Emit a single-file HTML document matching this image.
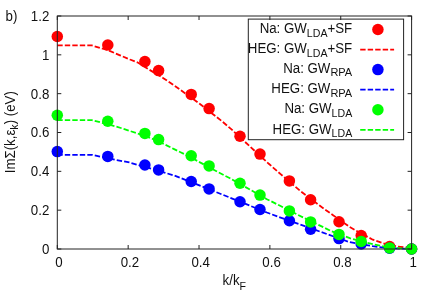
<!DOCTYPE html><html><head><meta charset="utf-8"><style>html,body{margin:0;padding:0;background:#fff}body{width:436px;height:305px;overflow:hidden;position:relative}</style></head><body><svg width="436" height="305" viewBox="0 0 436 305" style="position:absolute;left:0;top:0;will-change:transform;font-family:'Liberation Sans',sans-serif;font-size:13.3px" fill="#111">
<rect width="436" height="305" fill="#fff"/>
<text transform="translate(49.3,253.8) scale(1,1.06)" text-anchor="end">0</text>
<text transform="translate(49.3,215.0) scale(1,1.06)" text-anchor="end">0.2</text>
<text transform="translate(49.3,176.1) scale(1,1.06)" text-anchor="end">0.4</text>
<text transform="translate(49.3,137.3) scale(1,1.06)" text-anchor="end">0.6</text>
<text transform="translate(49.3,98.5) scale(1,1.06)" text-anchor="end">0.8</text>
<text transform="translate(49.3,59.6) scale(1,1.06)" text-anchor="end">1</text>
<text transform="translate(49.3,20.8) scale(1,1.06)" text-anchor="end">1.2</text>
<text transform="translate(59.0,267.1) scale(1,1.06)" text-anchor="middle">0</text>
<text transform="translate(129.9,267.1) scale(1,1.06)" text-anchor="middle">0.2</text>
<text transform="translate(200.7,267.1) scale(1,1.06)" text-anchor="middle">0.4</text>
<text transform="translate(271.6,267.1) scale(1,1.06)" text-anchor="middle">0.6</text>
<text transform="translate(342.4,267.1) scale(1,1.06)" text-anchor="middle">0.8</text>
<text transform="translate(413.3,267.1) scale(1,1.06)" text-anchor="middle">1</text>
<text transform="translate(5.6,20.6) scale(1,1.06)">b)</text>
<text transform="translate(222.6,285.4) scale(1,1.06)">k/k<tspan dy="4.1" font-size="10.6">F</tspan></text>
<text transform="translate(14.7,173.3) rotate(-90) scale(1,1.08)">ImΣ(k,ε<tspan dy="3.5" font-size="10.6">k</tspan><tspan dy="-3.5">) (eV)</tspan></text>
<circle cx="57.3" cy="36.5" r="5.75" fill="#ff0000"/>
<circle cx="107.8" cy="45.0" r="5.75" fill="#ff0000"/>
<circle cx="144.9" cy="61.6" r="5.75" fill="#ff0000"/>
<circle cx="158.6" cy="70.6" r="5.75" fill="#ff0000"/>
<circle cx="191.2" cy="94.4" r="5.75" fill="#ff0000"/>
<circle cx="209.1" cy="108.6" r="5.75" fill="#ff0000"/>
<circle cx="240" cy="136.3" r="5.75" fill="#ff0000"/>
<circle cx="260" cy="154.1" r="5.75" fill="#ff0000"/>
<circle cx="289.4" cy="180.9" r="5.75" fill="#ff0000"/>
<circle cx="310.6" cy="199.7" r="5.75" fill="#ff0000"/>
<circle cx="339" cy="221.8" r="5.75" fill="#ff0000"/>
<circle cx="361.2" cy="235.6" r="5.75" fill="#ff0000"/>
<circle cx="389.6" cy="246.5" r="5.75" fill="#ff0000"/>
<circle cx="411.6" cy="249.0" r="5.75" fill="#ff0000"/>
<path d="M57.3,45.4 L91.8,45.4 L108.7,50.5 L120.0,55.3 L130.0,59.5 L137.3,62.3 L141.0,64.6 L148.3,69.1 L163.0,77.9 L174.0,85.3 L185.0,93.2 L200.3,104.2 L222.9,122.0 L232.1,129.9 L249.3,145.9 L268.8,163.8 L280.6,174.1 L300.1,190.8 L321.9,207.3 L333.4,215.4 L349.8,227.1 L372.8,239.7 L386.5,244.3 L398.0,246.6 L411.7,248.2" stroke="#ff0000" stroke-dasharray="5.4,2.1" stroke-width="1.8" fill="none"/>
<circle cx="57.3" cy="151.6" r="5.75" fill="#0000ff"/>
<circle cx="107.8" cy="156.4" r="5.75" fill="#0000ff"/>
<circle cx="144.9" cy="165.0" r="5.75" fill="#0000ff"/>
<circle cx="158.6" cy="169.9" r="5.75" fill="#0000ff"/>
<circle cx="191.2" cy="181.5" r="5.75" fill="#0000ff"/>
<circle cx="209.1" cy="188.9" r="5.75" fill="#0000ff"/>
<circle cx="240" cy="201.7" r="5.75" fill="#0000ff"/>
<circle cx="260" cy="209.5" r="5.75" fill="#0000ff"/>
<circle cx="289.4" cy="220.8" r="5.75" fill="#0000ff"/>
<circle cx="310.6" cy="229.2" r="5.75" fill="#0000ff"/>
<circle cx="339" cy="238.6" r="5.75" fill="#0000ff"/>
<circle cx="361.2" cy="244" r="5.75" fill="#0000ff"/>
<circle cx="389.6" cy="248.3" r="5.75" fill="#0000ff"/>
<circle cx="411.6" cy="249.0" r="5.75" fill="#0000ff"/>
<path d="M57.3,154.8 L91.8,154.8 L116.5,160.0 L130.0,162.6 L173.6,175.3 L181.6,178.3 L200.0,185.6 L266.9,212.5 L280.6,217.6 L320.0,231.6 L329.2,234.9 L349.8,242.2 L372.8,246.2 L386.5,247.9 L400.0,248.6 L411.7,249.0" stroke="#0000ff" stroke-dasharray="5.4,2.1" stroke-width="1.8" fill="none"/>
<circle cx="57.3" cy="115.3" r="5.75" fill="#00ff00"/>
<circle cx="107.8" cy="121.2" r="5.75" fill="#00ff00"/>
<circle cx="144.9" cy="133.4" r="5.75" fill="#00ff00"/>
<circle cx="158.6" cy="139.6" r="5.75" fill="#00ff00"/>
<circle cx="191.2" cy="155.8" r="5.75" fill="#00ff00"/>
<circle cx="209.1" cy="165.9" r="5.75" fill="#00ff00"/>
<circle cx="240" cy="183.2" r="5.75" fill="#00ff00"/>
<circle cx="260" cy="195.1" r="5.75" fill="#00ff00"/>
<circle cx="289.4" cy="210.9" r="5.75" fill="#00ff00"/>
<circle cx="310.6" cy="221.9" r="5.75" fill="#00ff00"/>
<circle cx="339" cy="234.4" r="5.75" fill="#00ff00"/>
<circle cx="361.2" cy="241.5" r="5.75" fill="#00ff00"/>
<circle cx="389.6" cy="247.9" r="5.75" fill="#00ff00"/>
<circle cx="411.6" cy="249.0" r="5.75" fill="#00ff00"/>
<path d="M57.3,120.1 L91.8,120.1 L116.5,126.6 L130.0,131.0 L144.9,135.8 L158.4,141.3 L173.6,148.9 L180.5,152.2 L191.2,157.6 L209.1,167.3 L221.7,174.0 L230.0,178.3 L266.9,199.2 L280.6,206.0 L297.8,214.8 L320.0,225.6 L331.5,231.2 L349.8,238.2 L372.8,244.2 L386.5,247.0 L400.0,248.4 L411.7,249.0" stroke="#00ff00" stroke-dasharray="5.4,2.1" stroke-width="1.8" fill="none"/>
<rect x="248.3" y="19.1" width="155.3" height="120.6" fill="#fff" stroke="#222" stroke-width="1"/>
<text transform="translate(352.2,33.2) scale(1,1.04)" text-anchor="end">Na: GW<tspan dy="3.4" font-size="10.6">LDA</tspan><tspan dy="-3.4">+SF</tspan></text>
<circle cx="377.9" cy="29.5" r="5.75" fill="#ff0000"/>
<text transform="translate(352.2,53.3) scale(1,1.04)" text-anchor="end">HEG: GW<tspan dy="3.4" font-size="10.6">LDA</tspan><tspan dy="-3.4">+SF</tspan></text>
<path d="M360.2,49.6H394.1" stroke="#ff0000" stroke-dasharray="5.4,2.1" stroke-width="1.8" fill="none"/>
<text transform="translate(352.2,72.7) scale(1,1.04)" text-anchor="end">Na: GW<tspan dy="3.4" font-size="11.0">RPA</tspan></text>
<circle cx="377.9" cy="69.6" r="5.75" fill="#0000ff"/>
<text transform="translate(352.2,93.0) scale(1,1.04)" text-anchor="end">HEG: GW<tspan dy="3.4" font-size="11.0">RPA</tspan></text>
<path d="M360.2,89.7H394.1" stroke="#0000ff" stroke-dasharray="5.4,2.1" stroke-width="1.8" fill="none"/>
<text transform="translate(352.2,113.1) scale(1,1.04)" text-anchor="end">Na: GW<tspan dy="3.4" font-size="10.6">LDA</tspan></text>
<circle cx="377.9" cy="109.7" r="5.75" fill="#00ff00"/>
<text transform="translate(352.2,133.5) scale(1,1.04)" text-anchor="end">HEG: GW<tspan dy="3.4" font-size="10.6">LDA</tspan></text>
<path d="M360.2,129.8H394.1" stroke="#00ff00" stroke-dasharray="5.4,2.1" stroke-width="1.8" fill="none"/>
<rect x="57.3" y="16.0" width="354.3" height="233.0" fill="none" stroke="#222" stroke-width="1"/>
<path d="M57.3,249.00h4 M411.6,249.00h-4 M57.3,210.17h4 M411.6,210.17h-4 M57.3,171.33h4 M411.6,171.33h-4 M57.3,132.50h4 M411.6,132.50h-4 M57.3,93.67h4 M411.6,93.67h-4 M57.3,54.83h4 M411.6,54.83h-4 M57.3,16.00h4 M411.6,16.00h-4 M57.30,249.0v-4 M57.30,16.0v4 M128.16,249.0v-4 M128.16,16.0v4 M199.02,249.0v-4 M199.02,16.0v4 M269.88,249.0v-4 M269.88,16.0v4 M340.74,249.0v-4 M340.74,16.0v4 M411.60,249.0v-4 M411.60,16.0v4" stroke="#222" stroke-width="1" fill="none"/>
</svg></body></html>
